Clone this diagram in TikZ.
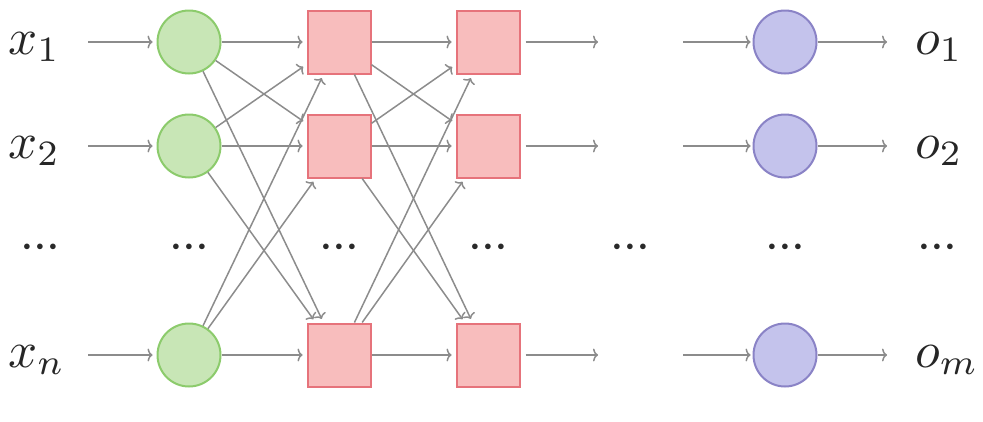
\documentclass[tikz,border=0pt]{standalone}
\usepackage{graphicx}
\usetikzlibrary{arrows.meta}
\definecolor{gfill}{HTML}{C8E6B6}
\definecolor{gline}{HTML}{8CCB6C}
\definecolor{rfill}{HTML}{F8BDBD}
\definecolor{rline}{HTML}{E6737B}
\definecolor{pfill}{HTML}{C4C3EC}
\definecolor{pline}{HTML}{8A83C6}
\definecolor{agray}{HTML}{8C8C8C}
\definecolor{dotc}{HTML}{2A2A2A}
\newcommand{\biglbl}[1]{\scalebox{5.1}{$#1$}}
\newcommand{\bigdots}{\scalebox{1.45}{$\bullet\mkern3mu\bullet\mkern3mu\bullet$}}
\begin{document}
\begin{tikzpicture}[x=1pt,y=-1pt,
  gnode/.style={circle,draw=gline,fill=gfill,line width=2pt,minimum size=63pt,inner sep=0pt},
  rnode/.style={rectangle,draw=rline,fill=rfill,line width=2pt,minimum size=63pt,inner sep=0pt},
  pnode/.style={circle,draw=pline,fill=pfill,line width=2pt,minimum size=63pt,inner sep=0pt},
  lbl/.style={anchor=base west,inner sep=0pt,text width=58pt,text=black!85},
  dots/.style={inner sep=0pt,text=dotc},
  arr/.style={draw=agray,line width=1.5pt,-{To[length=5pt,width=13pt]},shorten >=4pt}
]
\useasboundingbox (0,0) rectangle (983,421);
% labels
\node[lbl] (x1) at (8,54) {\biglbl{x_1}};
\node[lbl] (x2) at (8,158) {\biglbl{x_2}};
\node[lbl] (xn) at (8,367) {\biglbl{x_n}};
\node[lbl] (o1) at (915,54) {\biglbl{o_1}};
\node[lbl] (o2) at (915,158) {\biglbl{o_2}};
\node[lbl] (om) at (915,367) {\biglbl{o_m}};
% dots
\node[dots] (d0) at (40,247) {\bigdots};
\node[dots] (d1) at (189,247) {\bigdots};
\node[dots] (d2) at (339,247) {\bigdots};
\node[dots] (d3) at (488,247) {\bigdots};
\node[dots] (d4) at (630,247) {\bigdots};
\node[dots] (d5) at (785,247) {\bigdots};
\node[dots] (d6) at (937,247) {\bigdots};
% nodes
\node[gnode] (g1) at (189,42) {};
\node[gnode] (g2) at (189,146) {};
\node[gnode] (gn) at (189,355) {};
\node[rnode] (a1) at (339,42) {};
\node[rnode] (a2) at (339,146) {};
\node[rnode] (an) at (339,355) {};
\node[rnode] (b1) at (488,42) {};
\node[rnode] (b2) at (488,146) {};
\node[rnode] (bn) at (488,355) {};
\node[pnode] (p1) at (785,42) {};
\node[pnode] (p2) at (785,146) {};
\node[pnode] (pn) at (785,355) {};
\coordinate (e1) at (598,42);
\coordinate (e2) at (598,146);
\coordinate (en) at (598,355);
\coordinate (s1) at (683,42);
\coordinate (s2) at (683,146);
\coordinate (sn) at (683,355);
% input arrows
\foreach \i in {1,2,n} {
  \draw[arr,shorten <=22pt] (x\i.east |- g\i) -- (g\i);
  \draw[arr] (g\i) -- (a\i);
  \draw[arr] (a\i) -- (b\i);
  \draw[arr,shorten <=5pt,shorten >=0pt] (b\i) -- (e\i);
  \draw[arr,shorten >=2pt] (s\i) -- (p\i);
}
\draw[arr,shorten >=28pt] (p1) -- (o1.west |- p1);
\draw[arr,shorten >=28pt] (p2) -- (o2.west |- p2);
\draw[arr,shorten >=28pt] (pn) -- (om.west |- pn);
% cross connections
\foreach \s/\t in {g1/a2,g1/an,g2/a1,g2/an,gn/a1,gn/a2,a1/b2,a1/bn,a2/b1,a2/bn,an/b1,an/b2} {
  \draw[arr] (\s) -- (\t);
}
\end{tikzpicture}
\end{document}
